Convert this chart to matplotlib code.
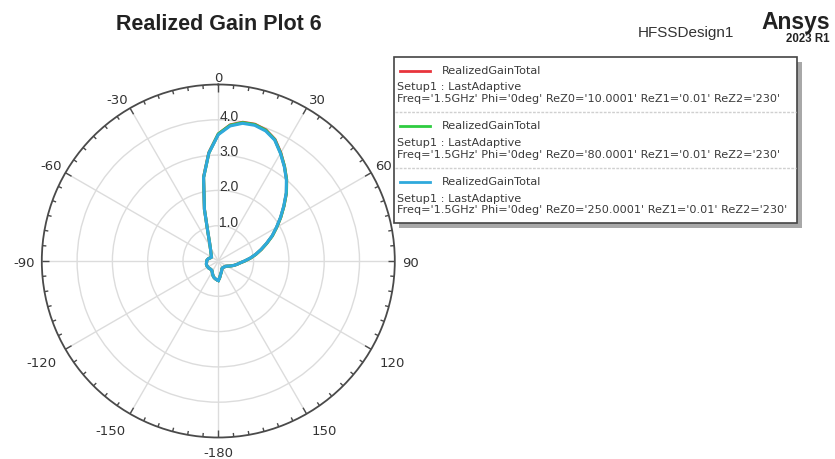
import numpy as np
import matplotlib
matplotlib.use("Agg")
import matplotlib.pyplot as plt
from matplotlib.patches import Rectangle
import matplotlib.transforms as mtransforms

plt.rcParams['font.family'] = ['Liberation Sans', 'DejaVu Sans']

# Theta sweep in degrees
theta_deg = np.arange(-180, 181, 5)

# Realized gain (linear) for the three ReZ0 settings
gain_rez0_10 = [0.55, 0.53, 0.51, 0.48, 0.44, 0.39, 0.35, 0.32, 0.32, 0.32,
                0.33, 0.34, 0.34, 0.35, 0.35, 0.35, 0.34, 0.33, 0.33, 0.32,
                0.30, 0.28, 0.25, 0.23, 0.22, 0.24, 0.26, 0.29, 0.33, 0.38,
                0.46, 0.59, 0.86, 1.52, 2.41, 3.08, 3.60, 3.87, 3.99, 4.01,
                3.95, 3.80, 3.54, 3.27, 3.01, 2.73, 2.43, 2.16, 1.91, 1.69,
                1.46, 1.26, 1.08, 0.91, 0.75, 0.62, 0.54, 0.47, 0.40, 0.34,
                0.29, 0.26, 0.25, 0.24, 0.23, 0.23, 0.23, 0.24, 0.28, 0.33,
                0.38, 0.47, 0.55]
gain_rez0_80 = [0.55, 0.53, 0.51, 0.48, 0.44, 0.39, 0.35, 0.32, 0.32, 0.32,
                0.33, 0.34, 0.34, 0.35, 0.35, 0.35, 0.34, 0.33, 0.33, 0.32,
                0.30, 0.28, 0.25, 0.23, 0.22, 0.24, 0.26, 0.29, 0.33, 0.38,
                0.46, 0.59, 0.86, 1.52, 2.40, 3.07, 3.60, 3.86, 3.98, 4.00,
                3.94, 3.79, 3.53, 3.27, 3.01, 2.73, 2.43, 2.16, 1.91, 1.69,
                1.46, 1.26, 1.08, 0.91, 0.75, 0.62, 0.54, 0.47, 0.40, 0.34,
                0.29, 0.26, 0.25, 0.24, 0.23, 0.23, 0.23, 0.24, 0.28, 0.33,
                0.38, 0.47, 0.55]
gain_rez0_250 = [0.55, 0.53, 0.51, 0.48, 0.44, 0.39, 0.35, 0.32, 0.32, 0.32,
                 0.33, 0.34, 0.34, 0.35, 0.35, 0.35, 0.34, 0.33, 0.33, 0.32,
                 0.30, 0.28, 0.25, 0.23, 0.22, 0.24, 0.26, 0.29, 0.33, 0.38,
                 0.46, 0.59, 0.86, 1.52, 2.40, 3.07, 3.58, 3.84, 3.96, 3.98,
                 3.92, 3.78, 3.52, 3.26, 3.00, 2.72, 2.42, 2.15, 1.90, 1.68,
                 1.45, 1.25, 1.07, 0.90, 0.74, 0.62, 0.54, 0.47, 0.40, 0.34,
                 0.29, 0.26, 0.25, 0.24, 0.23, 0.23, 0.23, 0.24, 0.28, 0.33,
                 0.38, 0.47, 0.55]

series_colors = ['#e8343c', '#2ecc40', '#2fa9dc']
rez0_values = ['10.0001', '80.0001', '250.0001']

theta_tick_deg = [0, 30, 60, 90, 120, 150, 180, 210, 240, 270, 300, 330]
theta_tick_labels = ['0', '30', '60', '90', '120', '150', '-180',
                     '-150', '-120', '-90', '-60', '-30']
r_ticks = [1.0, 2.0, 3.0, 4.0]
r_max = 5.0

W, H = 835, 459
fig = plt.figure(figsize=(W / 100, H / 100), dpi=100)
fig.patch.set_facecolor('white')

cx, cy, rad = 218.3, 261.0, 176.5
ax = fig.add_axes([(cx - rad) / W, (H - cy - rad) / H, 2 * rad / W, 2 * rad / H],
                  projection='polar')
ax.set_theta_zero_location('N')
ax.set_theta_direction(-1)
ax.set_ylim(0, r_max)

ax.set_xticks(np.deg2rad(theta_tick_deg))
ax.set_xticklabels([])
ax.tick_params(axis='x', length=0)
ax.set_yticks(r_ticks)
ax.set_yticklabels([])
ax.tick_params(axis='y', length=0)
ax.grid(True, color='#dcdcdc', linewidth=1.0)
ax.spines['polar'].set_color('#4a4a4a')
ax.spines['polar'].set_linewidth(1.3)

# inward tick marks on the outer circle: every 5 deg, longer every 30 deg
for a in range(0, 360, 5):
    tl = 0.2 if a % 30 == 0 else 0.11
    ax.plot([np.deg2rad(a)] * 2, [r_max - tl, r_max], color='#4a4a4a',
            linewidth=1.0, solid_capstyle='butt', zorder=2)

# angle labels anchored by their nearest corner just outside the circle
lab_shift = mtransforms.ScaledTranslation(0, -2.5 / 100, fig.dpi_scale_trans)
for a, lab in zip(theta_tick_deg, theta_tick_labels):
    if a in (0, 180):
        ha = 'center'
    elif a < 180:
        ha = 'left'
    else:
        ha = 'right'
    if a in (90, 270):
        va = 'center'
    elif a < 90 or a > 270:
        va = 'bottom'
    else:
        va = 'top'
    if va == 'center':
        rr = 5.2
    elif ha == 'center':
        rr = 5.05 if va == 'bottom' else 5.2
    else:
        rr = 5.13 if va == 'bottom' else 5.28
    ax.text(np.deg2rad(a), rr, lab, ha=ha, va=va, fontsize=9.5,
            family='DejaVu Sans', color='#333333', clip_on=False,
            transform=ax.transData + lab_shift)

th = np.deg2rad(theta_deg)
for vals, col in zip([gain_rez0_10, gain_rez0_80, gain_rez0_250], series_colors):
    ax.plot(th, vals, color=col, linewidth=2.2, solid_joinstyle='round', zorder=3)

# radial ring labels along the 0 deg spoke
offset = mtransforms.ScaledTranslation(1 / 100, 3 / 100, fig.dpi_scale_trans)
for r in r_ticks:
    ax.text(0, r, f'{r:.1f}', ha='left', va='center', fontsize=10,
            color='#333333', transform=ax.transData + offset, zorder=4)

# overlay in pixel coordinates for title, branding and legend
ov = fig.add_axes([0, 0, 1, 1], zorder=5)
ov.set_xlim(0, W)
ov.set_ylim(H, 0)
ov.axis('off')
ov.patch.set_alpha(0)

ov.text(219, 24, 'Realized Gain Plot 6', ha='center', va='center',
        fontsize=15.5, fontweight='bold', color='#222222')
ov.text(686, 33, 'HFSSDesign1', ha='center', va='center', fontsize=11,
        color='#333333')
ov.text(830, 23, 'Ansys', ha='right', va='center', fontsize=16.5,
        fontweight='bold', color='#222222')
ov.text(830, 39, '2023 R1', ha='right', va='center', fontsize=8.3,
        fontweight='bold', color='#222222')

bx, by, bw, bh = 394, 57, 403, 166
ov.add_patch(Rectangle((bx + 5, by + 5), bw, bh, facecolor='#a8a8a8',
                       edgecolor='none'))
ov.add_patch(Rectangle((bx, by), bw, bh, facecolor='white',
                       edgecolor='#444444', linewidth=1.2))
leg_font = dict(fontsize=8.1, family='DejaVu Sans', color='#3a3a3a')
entry_step = 55.8
for i, (col, z0) in enumerate(zip(series_colors, rez0_values)):
    y0 = 70.5 + i * entry_step
    ov.plot([400, 430], [y0, y0], color=col, linewidth=2.0)
    ov.text(442, y0, 'RealizedGainTotal', ha='left', va='center', **leg_font)
    ov.text(397, y0 + 16.8, 'Setup1 : LastAdaptive', ha='left', va='center',
            **leg_font)
    ov.text(397, y0 + 28.2,
            f"Freq='1.5GHz' Phi='0deg' ReZ0='{z0}' ReZ1='0.01' ReZ2='230'",
            ha='left', va='center', **leg_font)
    if i < 2:
        ys = y0 + 41.2
        ov.plot([bx + 1, bx + bw - 1], [ys, ys], color='#d0d0d0',
                linewidth=1.0, linestyle=(0, (2, 1)))

fig.savefig('out.png', dpi=100, facecolor='white')
